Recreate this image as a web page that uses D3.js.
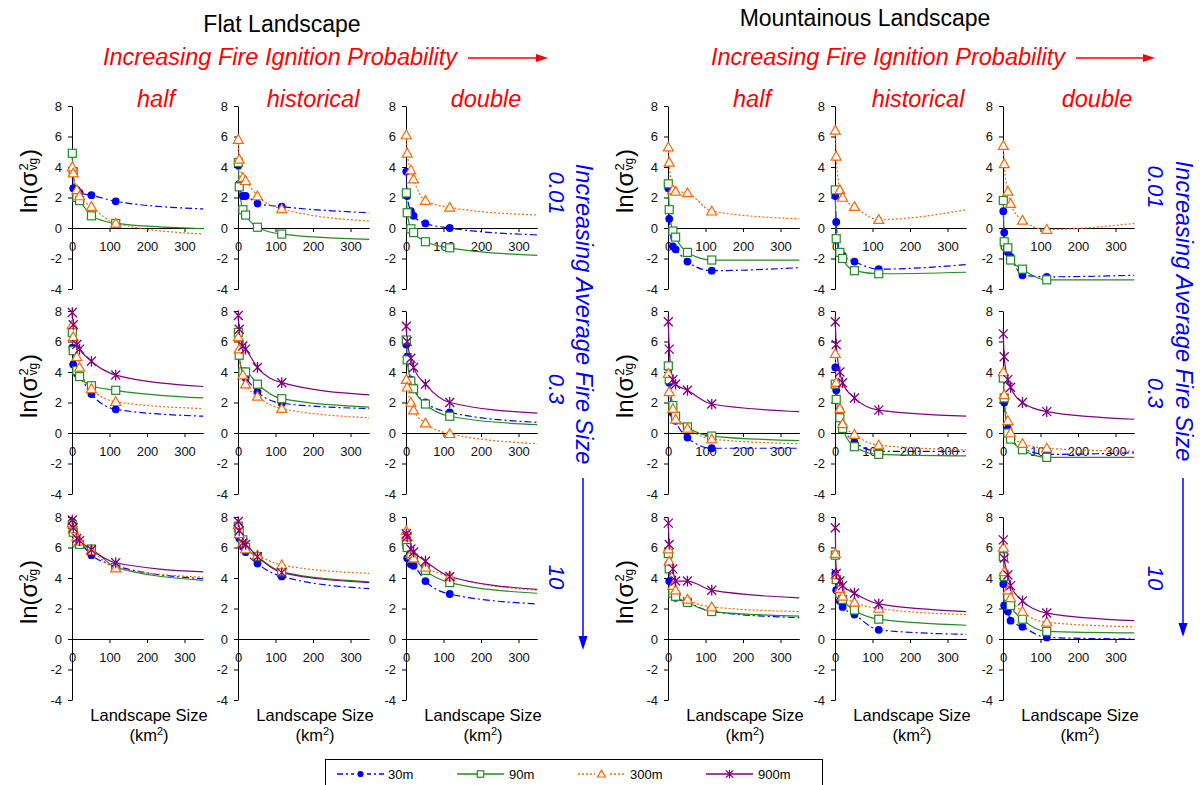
<!DOCTYPE html>
<html>
<head>
<meta charset="utf-8">
<script src="https://cdn.jsdelivr.net/npm/d3@7"></script>
<style>
body { margin: 0; background: #fff; }
svg { font-family: "Liberation Sans", Arial, Helvetica, sans-serif; }
</style>
</head>
<body>
<div id="chart"></div>
<script>

// landscape sizes (km2) of the sampled points, last one is where the fitted curve ends
var landscapeSize = [0.81, 3.24, 12.96, 20.25, 51.84, 116.64, 350];
var ignitionLevels = ["half", "historical", "double"];
var fireSizes = ["0.01", "0.3", "10"];
var resolutions = ["30m", "90m", "300m", "900m"];
var landscapes = ["Flat Landscape", "Mountainous Landscape"];
var xTicks = [0, 100, 200, 300];
var yTicks = [-4, -2, 0, 2, 4, 6, 8];

// ln(sigma^2 vg) : [fire size row][ignition column][landscape size]
var flat30 = [
  [[4.9, 2.6, 2.5, 2.3, 2.15, 1.75, 1.25], [4.1, 2.9, 2.1, 2.1, 1.6, 1.4, 1.0], [3.7, 2.1, 1.1, 0.8, 0.3, 0.0, -0.45]],
  [[5.6, 4.5, 3.9, 3.7, 2.55, 1.55, 1.1], [6.3, 5.3, 3.8, 3.6, 2.7, 1.95, 1.6], [5.8, 5.0, 3.5, 3.0, 2.0, 1.35, 0.7]],
  [[7.7, 7.1, 6.4, 6.3, 5.5, 4.8, 3.95], [7.1, 6.6, 6.05, 5.7, 4.95, 4.1, 3.3], [6.2, 5.3, 4.9, 4.8, 3.8, 2.95, 2.3]]
];
var flat90 = [
  [[4.9, 3.7, 2.0, 1.8, 0.8, 0.3, -0.05], [4.3, 2.7, 1.2, 0.85, 0.05, -0.4, -0.75], [2.3, 1.0, -0.05, -0.3, -0.9, -1.3, -1.8]],
  [[6.6, 5.4, 4.1, 3.7, 3.1, 2.8, 2.3], [6.6, 5.1, 4.0, 4.0, 3.2, 2.25, 1.7], [6.1, 4.8, 3.4, 2.9, 1.9, 1.1, 0.55]],
  [[7.5, 7.0, 6.3, 6.2, 5.9, 4.7, 3.85], [7.4, 7.0, 6.5, 6.0, 5.4, 4.4, 3.75], [6.4, 6.0, 5.5, 5.3, 4.5, 3.7, 3.0]]
];
var flat300 = [
  [[4.0, 3.6, 2.5, 2.1, 1.4, 0.3, -0.4], [5.8, 4.5, 3.3, 3.1, 2.1, 1.25, 0.45], [6.1, 4.9, 3.8, 3.2, 1.8, 1.35, 0.85]],
  [[7.1, 6.3, 5.0, 4.3, 2.9, 2.05, 1.6], [6.3, 5.5, 3.8, 3.2, 2.4, 1.6, 1.0], [3.5, 3.0, 2.0, 1.5, 0.65, -0.05, -0.7]],
  [[7.6, 7.2, 6.7, 6.4, 5.8, 4.65, 4.05], [7.5, 6.9, 6.3, 5.9, 5.5, 4.85, 4.3], [7.1, 6.7, 5.6, 5.3, 4.7, 4.1, 3.2]]
];
var flat900 = [
  null,
  [[7.9, 7.1, 5.8, 5.5, 4.7, 3.8, 3.05], [7.7, 6.8, 5.7, 5.5, 4.3, 3.3, 2.5], [7.0, 6.0, 4.9, 4.3, 3.2, 2.0, 1.3]],
  [[7.8, 7.3, 6.6, 6.45, 5.85, 5.0, 4.4], [7.7, 7.1, 6.3, 6.2, 5.4, 4.35, 3.7], [6.9, 6.7, 5.9, 5.7, 5.1, 4.1, 3.25]]
];
var mtn30 = [
  [[2.6, 0.6, -1.2, -1.4, -2.2, -2.8, -2.6], [2.1, 0.4, -1.6, -1.8, -2.2, -2.7, -2.4], [1.1, -0.3, -1.6, -1.9, -3.1, -3.2, -3.1]],
  [[4.3, 3.3, 1.3, 0.8, -0.3, -1.0, -1.0], [4.3, 2.8, 1.5, 0.5, -0.6, -1.2, -1.2], [3.8, 2.0, 0.3, -0.3, -1.0, -1.4, -1.3]],
  [[4.9, 3.8, 3.0, 2.7, 2.4, 1.8, 1.4], [4.3, 3.2, 2.5, 2.1, 1.6, 0.6, 0.3], [3.6, 2.2, 1.8, 1.2, 0.8, 0.1, 0.0]]
];
var mtn90 = [
  [[2.9, 1.2, -0.2, -0.6, -1.6, -2.1, -2.1], [2.5, -0.7, -1.6, -2.0, -2.8, -3.0, -2.9], [1.8, -0.9, -1.3, -2.1, -2.7, -3.4, -3.4]],
  [[4.4, 3.5, 1.8, 1.1, 0.4, -0.2, -0.5], [3.2, 2.2, 1.0, 0.3, -0.9, -1.4, -1.5], [3.6, 2.3, 0.0, -0.4, -1.1, -1.6, -1.6]],
  [[5.6, 4.6, 3.0, 2.8, 2.4, 1.8, 1.5], [5.5, 3.9, 3.0, 2.6, 1.9, 1.3, 0.9], [5.4, 4.1, 2.8, 2.2, 1.3, 0.5, 0.4]]
];
var mtn300 = [
  [[5.3, 4.3, 2.5, 2.4, 2.3, 1.1, 0.6], [6.4, 4.7, 2.5, 2.0, 1.4, 0.55, 1.2], [5.4, 4.2, 2.4, 1.6, 0.5, -0.1, 0.3]],
  [[3.9, 2.7, 1.6, 0.9, 0.3, -0.4, -0.7], [5.2, 3.3, 1.6, 0.6, -0.1, -0.8, -1.1], [4.0, 2.5, 0.8, 0.0, -0.7, -1.0, -1.2]],
  [[5.9, 5.1, 3.5, 3.2, 2.6, 2.1, 1.8], [5.6, 4.2, 3.3, 2.8, 2.4, 2.0, 1.6], [6.0, 4.4, 3.2, 2.7, 1.8, 1.1, 0.8]]
];
var mtn900 = [
  null,
  [[7.3, 5.5, 3.5, 3.2, 2.8, 1.9, 1.4], [7.3, 5.8, 4.0, 3.3, 2.3, 1.5, 1.1], [6.5, 5.0, 3.5, 3.0, 2.0, 1.4, 0.9]],
  [[7.6, 6.2, 4.6, 3.8, 3.8, 3.2, 2.7], [7.3, 4.3, 3.8, 3.5, 3.0, 2.3, 1.8], [6.5, 5.3, 4.2, 3.5, 2.5, 1.7, 1.2]]
];

var seriesData = [[flat30, flat90, flat300, flat900], [mtn30, mtn90, mtn300, mtn900]];

var colors = ["#0000ff", "#228b22", "#ff6600", "#800080"];
var dashes = ["7,3,2,3", null, "2,2", null];

var W = 1203, H = 785;
var svg = d3.select("#chart").append("svg").attr("width", W).attr("height", H);

var axisXs = [[72, 238, 406], [668, 835, 1003]];
var rowY0 = [228, 433, 639];
var unit = 15.25;      // px per ln unit
var xLen = 131.25;     // px for 0..350 km2

function marker(sel, k, cx, cy, s) {
  s = s || 1;
  if (k === 0) {
    sel.append("circle").attr("cx", cx).attr("cy", cy).attr("r", 3.9 * s).attr("fill", colors[0]);
  } else if (k === 1) {
    sel.append("rect").attr("x", cx - 4 * s).attr("y", cy - 4 * s).attr("width", 8 * s).attr("height", 8 * s)
      .attr("fill", "#fff").attr("stroke", colors[1]).attr("stroke-width", 1.2);
  } else if (k === 2) {
    var h = 5 * s;
    sel.append("path").attr("d", "M" + cx + "," + (cy - h) + "L" + (cx + h) + "," + (cy + h * 0.75) + "L" + (cx - h) + "," + (cy + h * 0.75) + "Z")
      .attr("fill", "#fff").attr("stroke", colors[2]).attr("stroke-width", 1.2);
  } else {
    var a = 4.5 * s;
    sel.append("path").attr("d", "M" + (cx - a) + "," + (cy - a) + "L" + (cx + a) + "," + (cy + a) +
      "M" + (cx - a) + "," + (cy + a) + "L" + (cx + a) + "," + (cy - a) +
      "M" + cx + "," + (cy - a * 1.2) + "L" + cx + "," + (cy + a * 1.2))
      .attr("fill", "none").attr("stroke", colors[3]).attr("stroke-width", 1.3);
  }
}

function drawPanel(L, r, c) {
  var ax = axisXs[L][c], y0 = rowY0[r];
  var x = d3.scaleLinear().domain([0, 350]).range([ax, ax + xLen]);
  var y = d3.scaleLinear().domain([-4, 8]).range([y0 + 4 * unit, y0 - 8 * unit]);
  var g = svg.append("g");

  var xa = g.append("g").attr("transform", "translate(0," + y0 + ")")
    .call(d3.axisBottom(x).tickValues(xTicks).tickSize(4).tickSizeOuter(0).tickPadding(10));
  var ya = g.append("g").attr("transform", "translate(" + ax + ",0)")
    .call(d3.axisLeft(y).tickValues(yTicks).tickSize(4).tickSizeOuter(0).tickPadding(6).tickFormat(d3.format("d")));
  [xa, ya].forEach(function (a) {
    a.attr("font-family", null).attr("font-size", 13);
    a.selectAll("path, line").attr("stroke", "#000");
    a.selectAll("text").attr("fill", "#111");
  });
  // hyphen minus like the original
  ya.selectAll("text").text(function (d) { return d < 0 ? "-" + (-d) : d; });

  var line = d3.line().x(function (d) { return x(d[0]); }).y(function (d) { return y(d[1]); })
    .curve(d3.curveMonotoneX);

  seriesData[L].forEach(function (ser, k) {
    if (!ser[r]) return;
    var vals = ser[r][c];
    var pts = landscapeSize.map(function (s, i) { return [s, vals[i]]; });
    g.append("path").datum(pts).attr("d", line).attr("fill", "none")
      .attr("stroke", colors[k]).attr("stroke-width", 1.2)
      .attr("stroke-dasharray", dashes[k]);
  });
  seriesData[L].forEach(function (ser, k) {
    if (!ser[r]) return;
    var vals = ser[r][c];
    var mg = g.append("g");
    landscapeSize.slice(0, 6).forEach(function (s, i) {
      marker(mg, k, x(s), y(vals[i]));
    });
  });
}

function yLabel(bx, cy) {
  var g = svg.append("g").attr("transform", "translate(" + bx + "," + cy + ") rotate(-90)");
  var inner = g.append("g");
  var t1 = inner.append("text").attr("font-size", 24).text("ln(σ");
  var w1 = t1.node().getComputedTextLength();
  var sup = inner.append("text").attr("font-size", 13).attr("x", w1 + 1).attr("y", -9.5).text("2");
  var sub = inner.append("text").attr("font-size", 12).attr("x", w1 + 1).attr("y", 0).text("vg");
  var w2 = Math.max(sup.node().getComputedTextLength(), sub.node().getComputedTextLength());
  var t3 = inner.append("text").attr("font-size", 24).attr("x", w1 + w2 + 2).text(")");
  var tot = w1 + w2 + 2 + t3.node().getComputedTextLength();
  inner.attr("transform", "translate(" + (-tot / 2) + ",0)");
}

function arrowRight(x1, x2, yy, col) {
  svg.append("line").attr("x1", x1).attr("x2", x2 - 10).attr("y1", yy).attr("y2", yy).attr("stroke", col).attr("stroke-width", 1.5);
  svg.append("path").attr("d", "M" + x2 + "," + yy + "L" + (x2 - 12) + "," + (yy - 4) + "L" + (x2 - 12) + "," + (yy + 4) + "Z").attr("fill", col);
}
function arrowDown(xx, y1, y2, col) {
  svg.append("line").attr("x1", xx).attr("x2", xx).attr("y1", y1).attr("y2", y2 - 10).attr("stroke", col).attr("stroke-width", 1.5);
  svg.append("path").attr("d", "M" + xx + "," + y2 + "L" + (xx - 4.5) + "," + (y2 - 14) + "L" + (xx + 4.5) + "," + (y2 - 14) + "Z").attr("fill", col);
}

var titleX = [282, 865], titleY = [32, 26];
var redStart = [103, 711], arrowEnd = [548, 1155];
var colLabelX = [[156, 313, 486], [752, 918, 1097]];
var sideTextX = [576, 1176], sideNumX = [549, 1148];
var sideTextY = [314, 311], sideNumY = [[193, 389, 577], [187, 393, 578]];
var sideArrow = [[583, 478, 650], [1183, 478, 637]];

landscapes.forEach(function (name, L) {
  svg.append("text").attr("x", titleX[L]).attr("y", titleY[L]).attr("text-anchor", "middle")
    .attr("font-size", 23).attr("fill", "#000").text(name);
  svg.append("text").attr("x", redStart[L]).attr("y", 65).attr("font-size", 23.5).attr("font-style", "italic")
    .attr("fill", "#ff0000").text("Increasing Fire Ignition Probability");
  arrowRight(redStart[L] + 365, arrowEnd[L], 58, "#ff0000");

  ignitionLevels.forEach(function (lv, c) {
    svg.append("text").attr("x", colLabelX[L][c]).attr("y", 107).attr("text-anchor", "middle")
      .attr("font-size", 23.5).attr("font-style", "italic").attr("fill", "#ff0000").text(lv);
  });

  for (var r = 0; r < 3; r++) {
    for (var c = 0; c < 3; c++) drawPanel(L, r, c);
    yLabel(axisXs[L][0] - 35, rowY0[r] - 47);
  }

  // landscape size labels
  axisXs[L].forEach(function (ax) {
    svg.append("text").attr("x", ax + 77).attr("y", 721).attr("text-anchor", "middle")
      .attr("font-size", 16.5).attr("fill", "#000").text("Landscape Size");
    var t = svg.append("text").attr("x", ax + 77).attr("y", 741).attr("text-anchor", "middle")
      .attr("font-size", 16.5).attr("fill", "#000");
    t.append("tspan").text("(km");
    t.append("tspan").attr("font-size", 11).attr("dy", -6).text("2");
    t.append("tspan").attr("dy", 6).text(")");
  });

  // average fire size side labels
  svg.append("text").attr("transform", "translate(" + sideTextX[L] + "," + sideTextY[L] + ") rotate(90)")
    .attr("text-anchor", "middle").attr("font-size", 23.5).attr("font-style", "italic").attr("fill", "#0000ff")
    .text("Increasing Average Fire Size");
  fireSizes.forEach(function (fs, r) {
    svg.append("text").attr("transform", "translate(" + sideNumX[L] + "," + sideNumY[L][r] + ") rotate(90)")
      .attr("text-anchor", "middle").attr("font-size", 22).attr("font-style", "italic").attr("fill", "#0000ff")
      .text(fs);
  });
  arrowDown(sideArrow[L][0], sideArrow[L][1], sideArrow[L][2], "#0000ff");
});

// legend
var legX = [337, 457, 578, 706], legTextX = [388, 509, 630, 758], legY = 774;
svg.append("rect").attr("x", 325.5).attr("y", 759.5).attr("width", 497).attr("height", 40)
  .attr("fill", "#fff").attr("stroke", "#000").attr("stroke-width", 1);
resolutions.forEach(function (res, k) {
  var lg = svg.append("g");
  lg.append("line").attr("x1", legX[k]).attr("x2", legX[k] + 47).attr("y1", legY).attr("y2", legY)
    .attr("stroke", colors[k]).attr("stroke-width", 1.5).attr("stroke-dasharray", k === 0 ? "6,3,2,3" : dashes[k]);
  if (k === 0 || k === 2) {
    lg.append("rect").attr("x", legX[k] + 17).attr("y", legY - 6).attr("width", 13).attr("height", 12).attr("fill", "#fff");
  }
  marker(lg, k, legX[k] + 23.5, legY, 0.8);
  lg.append("text").attr("x", legTextX[k]).attr("y", legY + 4.5).attr("font-size", 13).attr("fill", "#000").text(res);
});

</script>
</body>
</html>
